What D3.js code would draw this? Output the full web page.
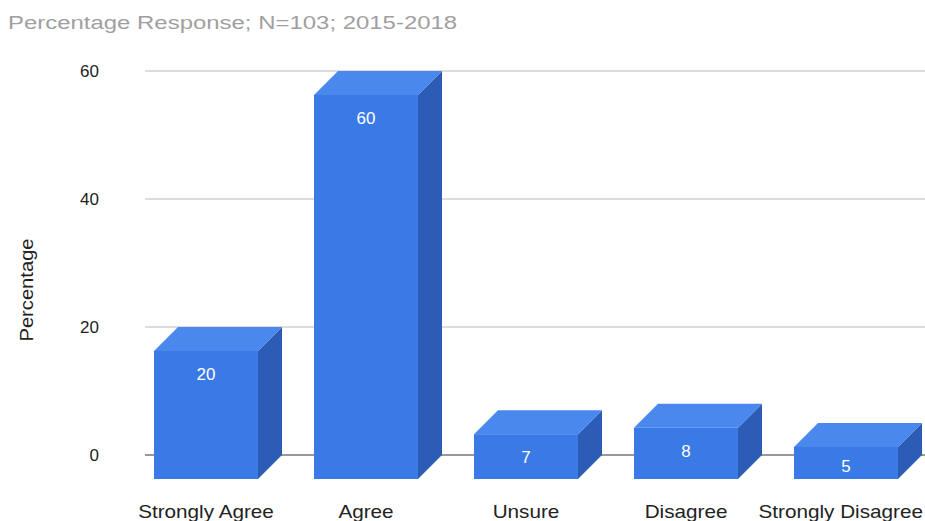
<!DOCTYPE html>
<html>
<head>
<meta charset="utf-8">
<script src="https://cdn.jsdelivr.net/npm/d3@7"></script>
<style>
  html, body { margin: 0; padding: 0; background: #fff; }
  svg { display: block; font-family: "Liberation Sans", Arial, sans-serif; }
</style>
</head>
<body>
<svg id="chart" width="925" height="521"></svg>
<script>
// Survey responses, percentage per answer
const categories = ["Strongly Agree", "Agree", "Unsure", "Disagree", "Strongly Disagree"];
const values = [20, 60, 7, 8, 5];
const yTicks = [0, 20, 40, 60];
const titleText = "Percentage Response; N=103; 2015-2018";
const yAxisTitle = "Percentage";

const svg = d3.select("#chart");
const W = 925, H = 521;
const depth = 24; // 3D extrusion offset in px

const x = d3.scaleBand().domain(categories).range([126, 926])
  .paddingInner(0.35).paddingOuter(0.175);
const y = d3.scaleLinear().domain([0, 60]).range([455, 71]);

// title
svg.append("text")
  .attr("font-size", 19)
  .attr("fill", "#a0a0a0")
  .attr("transform", "translate(8,29) scale(1.26,1)")
  .text(titleText);

// gridlines (back plane)
svg.append("g").selectAll("line")
  .data(yTicks.filter(d => d !== 0))
  .join("line")
  .attr("x1", 145).attr("x2", W)
  .attr("y1", d => y(d)).attr("y2", d => y(d))
  .attr("stroke", "#d2d2d2").attr("stroke-width", 1.5);

// baseline
svg.append("line")
  .attr("x1", 145).attr("x2", W)
  .attr("y1", y(0)).attr("y2", y(0))
  .attr("stroke", "#333").attr("stroke-width", 1.2);

// tick labels
svg.append("g").selectAll("text")
  .data(yTicks)
  .join("text")
  .attr("x", 99).attr("y", d => y(d) + 6)
  .attr("text-anchor", "end")
  .attr("font-size", 17)
  .attr("fill", "#222")
  .text(d => d);

// y axis title
svg.append("text")
  .attr("transform", "translate(33,290) rotate(-90) scale(1.12,1)")
  .attr("text-anchor", "middle")
  .attr("font-size", 18)
  .attr("fill", "#222")
  .text(yAxisTitle);

// 3D bars
const bars = svg.append("g").selectAll("g")
  .data(categories.map((c, i) => ({ c, v: values[i] })))
  .join("g");

const bw = x.bandwidth();
// right side face
bars.append("path")
  .attr("fill", "#2b5cb6")
  .attr("d", d => {
    const x1 = x(d.c) + bw, yt = y(d.v) + depth, yb = y(0) + depth;
    return `M${x1},${yt} L${x1 + depth},${yt - depth} L${x1 + depth},${yb - depth} L${x1},${yb} Z`;
  });
// top face
bars.append("path")
  .attr("fill", "#4b88ee")
  .attr("d", d => {
    const x0 = x(d.c), x1 = x0 + bw, yt = y(d.v) + depth;
    return `M${x0},${yt} L${x0 + depth},${yt - depth} L${x1 + depth},${yt - depth} L${x1},${yt} Z`;
  });
// front face
bars.append("rect")
  .attr("fill", "#3a7ae7")
  .attr("x", d => x(d.c))
  .attr("y", d => y(d.v) + depth)
  .attr("width", bw)
  .attr("height", d => y(0) - y(d.v));

// value labels
bars.append("text")
  .attr("x", d => x(d.c) + bw / 2)
  .attr("y", d => {
    const top = y(d.v) + depth, bot = y(0) + depth;
    return Math.min(top + 29, (top + bot) / 2 + 9);
  })
  .attr("text-anchor", "middle")
  .attr("font-size", 17)
  .attr("fill", "#fff")
  .text(d => d.v);

// category labels, nudged left if they would run past the right edge
const sx = 1.15;
svg.append("g").selectAll("text")
  .data(categories)
  .join("text")
  .attr("text-anchor", "middle")
  .attr("font-size", 18)
  .attr("fill", "#222")
  .text(d => d)
  .attr("transform", function(d) {
    const half = this.getComputedTextLength() * sx / 2;
    const cx = Math.min(x(d) + bw / 2, W - 2 - half);
    return `translate(${cx},518) scale(${sx},1)`;
  });
</script>
</body>
</html>
